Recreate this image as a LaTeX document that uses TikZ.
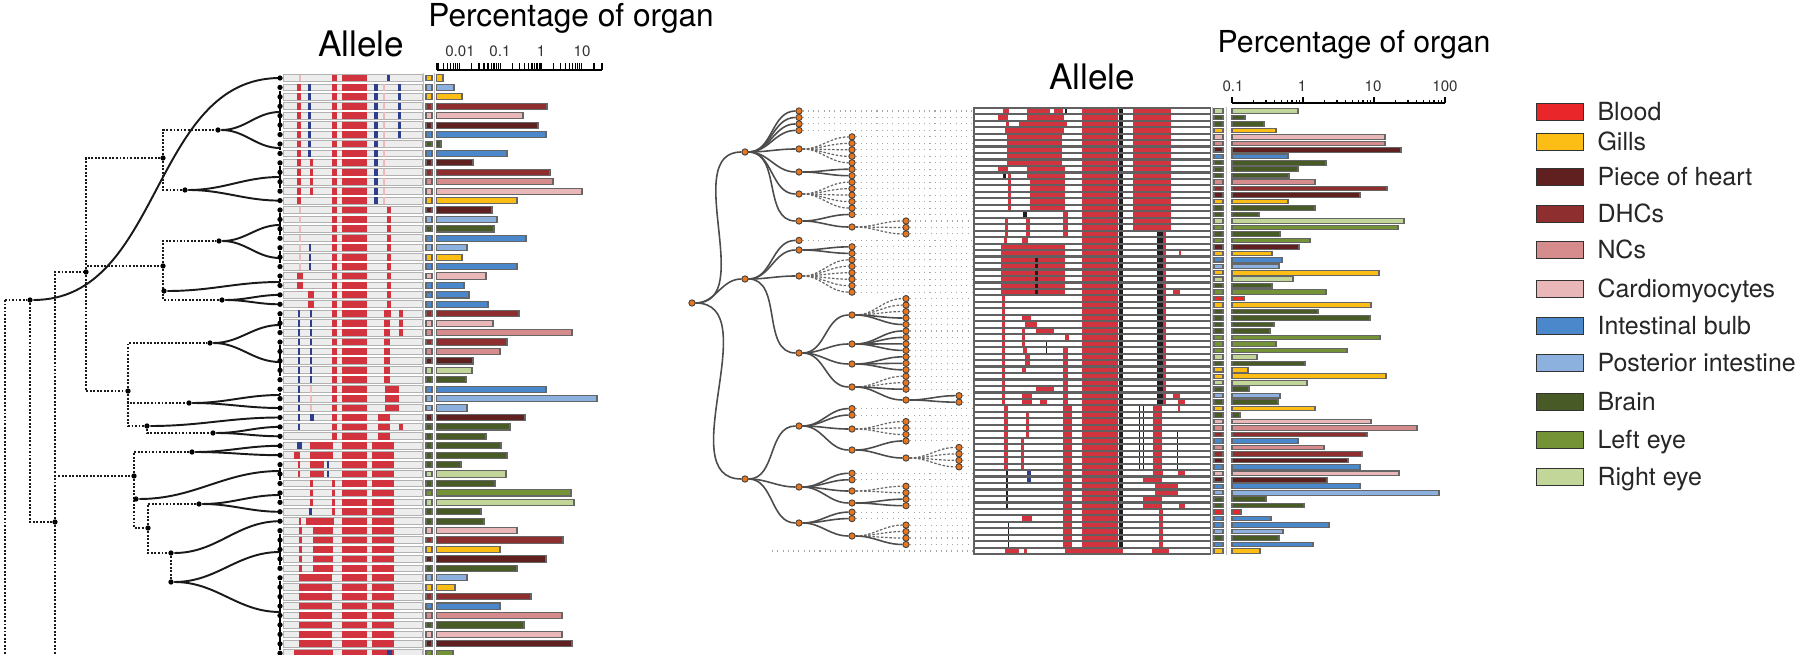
\documentclass[tikz,border=0pt]{standalone}
\usepackage{fontspec}
\setmainfont{TeX Gyre Heros}
\usetikzlibrary{positioning,backgrounds}
\definecolor{orgbl}{RGB}{233,38,42}
\definecolor{orggi}{RGB}{252,190,20}
\definecolor{orgph}{RGB}{96,32,32}
\definecolor{orgdh}{RGB}{142,46,46}
\definecolor{orgnc}{RGB}{214,140,140}
\definecolor{orgcm}{RGB}{233,183,183}
\definecolor{orgib}{RGB}{74,135,203}
\definecolor{orgpi}{RGB}{140,177,222}
\definecolor{orgbr}{RGB}{72,90,38}
\definecolor{orgle}{RGB}{115,147,54}
\definecolor{orgre}{RGB}{193,214,152}
\definecolor{alred}{RGB}{209,52,62}
\definecolor{alblue}{RGB}{44,62,140}
\definecolor{alblk}{RGB}{30,30,34}
\colorlet{alfaint}{alred!35}
\definecolor{rorange}{RGB}{232,118,30}

\newcommand\lseg[5][alred]{%
  \foreach \r in {#2,...,#3}{%
    \pgfmathsetmacro\yy{78+(\r-1)*9.43}%
    \fill[#1] (#4,\yy-3.4) rectangle (#5,\yy+3.4);}}
\newcommand\rseg[5][alred]{%
  \foreach \r in {#2,...,#3}{%
    \pgfmathsetmacro\yy{111+(\r-1)*6.47}%
    \fill[#1] (#4,\yy-2.15) rectangle (#5,\yy+2.15);}}
\newcommand\rfan[4][redge]{%
  \foreach \r in {#3,...,#4}{\draw[#1] (#2) to[out=0,in=180] (rl\r);}}

\begin{document}
\begin{tikzpicture}[x=0.01cm,y=-0.01cm,
  ldot/.style={circle,fill=black,inner sep=0pt,minimum size=1.5pt},
  ldend/.style={line width=0.75pt,black!90,dash pattern=on 0.55pt off 0.45pt},
  lcurve/.style={line width=0.55pt,black!90},
  lleaf/.style={line width=0.55pt},
  lbg/.style={fill=black!7,draw=black!30,line width=0.25pt},
  orgbox/.style={draw=black!60,line width=0.3pt},
  rnode/.style={circle,fill=rorange,draw=black!75,line width=0.25pt,inner sep=0pt,minimum size=1.8pt},
  redge/.style={line width=0.45pt,draw=black!70},
  rdash/.style={line width=0.35pt,draw=black!60,dash pattern=on 0.7pt off 0.5pt},
  rlead/.style={line width=0.3pt,draw=black!35,dash pattern=on 0.3pt off 1.2pt},
  axln/.style={line width=0.35pt},
  axlab/.style={anchor=base,inner sep=0pt,font=\fontsize{4.3}{5}\selectfont,text=black!80},
  ttl/.style={anchor=base,inner sep=0pt},
  lgbox/.style={draw=black!80,line width=0.45pt,minimum width=13.3pt,minimum height=4.9pt,inner sep=0pt},
  lgtxt/.style={inner sep=0pt,text height=5.1pt,text depth=0pt,font=\fontsize{7.1}{8}\selectfont,text=black!85}]
\useasboundingbox (0,0) rectangle (1800,655);

% titles
\node[ttl,font=\fontsize{9}{10}\selectfont] (lptitle) at (571,27) {Percentage of organ};
\node[ttl,font=\fontsize{10}{11}\selectfont] (latitle) at (361,57) {Allele};
\node[ttl,font=\fontsize{8.6}{10}\selectfont] (rptitle) at (1354,53) {Percentage of organ};
\node[ttl,font=\fontsize{10}{11}\selectfont] (ratitle) at (1092,90) {Allele};

% left axis
\draw[axln] (437,70) -- (602,70);
\foreach \d in {-3,...,1}
  \foreach \m in {1,...,9}{
    \pgfmathsetmacro\tx{541+(\d+log10(\m))*40.7}
    \pgfmathtruncatemacro\ok{(\tx>436)*(\tx<603)}
    \ifnum\ok=1 \draw[axln] (\tx,70) -- (\tx,63); \fi}
\draw[axln] (437,70) -- (437,63);
\draw[axln] (602,70) -- (602,63);
\node[axlab] (lx1) at (460,57) {0.01};
\node[axlab] (lx2) at (500,57) {0.1};
\node[axlab] (lx3) at (541,57) {1};
\node[axlab] (lx4) at (582,57) {10};

% right axis
\draw[axln] (1232,103) -- (1445,103);
\foreach \d in {0,1,2}{
  \draw[axln] ({1232+\d*71},103) -- ({1232+\d*71},97.5);
  \foreach \m in {2,...,9}
    \draw[axln] ({1232+(\d+log10(\m))*71},103) -- ({1232+(\d+log10(\m))*71},100);}
\draw[axln] (1445,103) -- (1445,97.5);
\node[axlab] (rx1) at (1233,92) {0.1};
\node[axlab] (rx2) at (1302,92) {1};
\node[axlab] (rx3) at (1373,92) {10};
\node[axlab] (rx4) at (1445,92) {100};

% left rows
\draw[black!25,line width=0.4pt] (423.5,73) -- (423.5,655) (434.5,73) -- (434.5,655);
\foreach \c/\e [count=\r] in {gi/443,pi/454,gi/462,dh/547,cm/523,ph/538,ib/546,br/441,ib/507,ph/473,
  dh/550,nc/553,cm/582,gi/517,ph/492,pi/497,br/494,ib/526,pi/467,gi/462,
  ib/517,cm/486,ib/464,ib/469,ib/488,dh/519,cm/493,nc/572,dh/507,nc/500,
  ph/473,re/472,br/466,ib/546,pi/597,pi/467,ph/525,br/510,br/486,br/501,
  br/507,br/461,re/506,br/495,le/571,re/574,br/481,br/484,cm/517,dh/563,
  gi/500,ph/546,br/517,pi/467,gi/455,dh/531,ib/500,nc/562,br/524,cm/562,
  ph/572,le/453}{
  \pgfmathsetmacro\yy{78+(\r-1)*9.43}
  \draw[lbg] (283,\yy-3.4) rectangle (422,\yy+3.4);
  \draw[orgbox,fill=org\c] (426,\yy-2.9) rectangle (432,\yy+2.9);
  \draw[orgbox,fill=org\c] (436.5,\yy-3.1) rectangle (\e,\yy+3.1);}

% left alleles
\lseg{1}{62}{342}{367}
\lseg{1}{39}{332}{337}
\lseg[alfaint]{1}{1}{299}{300.5}
\lseg[alblue]{1}{1}{387}{389.5}
\lseg{2}{14}{297}{301}
\lseg[alblue]{2}{9}{308}{310.5}
\lseg{10}{13}{310}{312.5}
\lseg[alblue]{2}{14}{374}{378}
\lseg[alfaint]{2}{14}{383}{385}
\lseg[alblue]{2}{7}{398}{401}
\lseg[alfaint]{15}{23}{299}{300.5}
\lseg{15}{26}{387}{391}
\lseg[alblue]{19}{21}{309}{311}
\lseg{22}{23}{297}{303}
\lseg{24}{25}{308}{314}
\lseg[alblue]{26}{38}{298}{300}
\lseg[alblue]{26}{33}{310}{312}
\lseg[alfaint]{34}{36}{310}{312}
\lseg{26}{33}{384}{390}
\lseg{34}{36}{385}{399}
\lseg{26}{28}{399}{403}
\lseg[alblue]{37}{37}{310}{314}
\lseg{37}{39}{378}{390}
\lseg{38}{38}{399}{403}
\lseg[alblue]{40}{40}{297}{302}
\lseg{41}{41}{294}{300}
\lseg{40}{41}{310}{333}
\lseg{42}{43}{298}{300}
\lseg{42}{43}{310}{324}
\lseg[alblue]{42}{43}{327}{329}
\lseg{44}{47}{332}{335}
\lseg{44}{46}{310}{313}
\lseg[alblue]{47}{47}{309}{312}
\lseg{48}{48}{299}{301}
\lseg{48}{48}{306}{334}
\lseg{49}{53}{299}{302}
\lseg{49}{53}{313}{333}
\lseg{54}{62}{299}{332}
\lseg{40}{62}{372}{394}
\lseg{62}{62}{294}{333}
\lseg[alblue]{62}{62}{387}{392}

% left tree
\foreach \r in {1,...,62}
  \node[ldot] (ll\r) at (280,{78+(\r-1)*9.43}) {};
\foreach \n/\ep in {1/78,2/112,3/148,4/177,5/200.6,6/225,7/258,8/282,9/294.9,10/304.3,
  11/325,12/362,13/395,14/408,15/417.5,16/426.9,17/436.3,18/445.8,19/455.2,20/471,
  21/495,22/511.8,23/521.2,24/552,25/612}
  \coordinate (lg\n) at (280,\ep);
\coordinate (lt0) at (5,300);
\coordinate (lt0b) at (5,700);
\coordinate (lt2b) at (55,700);
\node[ldot] (lt1) at (30,300) {};
\node[ldot] (lt2) at (55,522) {};
\node[ldot] (lt3) at (86,272) {};
\node[ldot] (lt4) at (134,476) {};
\node[ldot] (lt5) at (163,158) {};
\node[ldot] (lt6) at (163,266) {};
\node[ldot] (lt7) at (128,391) {};
\node[ldot] (lt8) at (147,426) {};
\node[ldot] (lt9) at (148,528) {};
\node[ldot] (lt10) at (171,553) {};
\node[ldot] (ls1) at (218,130) {};
\node[ldot] (ls2) at (185,190) {};
\node[ldot] (ls3) at (219,241) {};
\node[ldot] (ls4) at (222,300) {};
\node[ldot] (lq1) at (164,291) {};
\node[ldot] (ls5) at (210,343) {};
\node[ldot] (ls6) at (189,403) {};
\node[ldot] (ls7) at (213,433) {};
\node[ldot] (ls8) at (192,452) {};
\node[ldot] (lq2) at (136,499) {};
\node[ldot] (ls9) at (199,504) {};
\node[ldot] (ls10) at (171,582) {};
\begin{scope}[on background layer]
  \draw[ldend] (lt0) -- (lt0b);
  \draw[ldend] (lt2) -- (lt2b);
  \foreach \p/\q in {lt0/lt1,lt1/lt2,lt2/lt3,lt2/lt4,lt3/lt5,lt3/lt6,lt3/lt7,
    lt5/ls1,lt5/ls2,lt6/ls3,lt6/ls4,lt6/lq1,lt7/ls5,lt7/ls6,lt7/lt8,lt8/ls7,
    lt4/ls8,lt4/lq2,lt4/lt9,lt9/ls9,lt9/lt10,lt10/ls10}
    \draw[ldend] (\p) |- (\q);
  \foreach \a/\b in {2/7,8/9,10/13,15/18,19/21,22/23,26/28,29/33,34/35,42/44,45/46,49/53,54/62}
    \draw[lleaf] (ll\a) -- (ll\b);
  \foreach \f/\g in {lt1/1,ls1/2,ls1/3,ls2/4,ls2/5,ls3/6,ls3/7,lq1/8,ls4/9,ls4/10,
    ls5/11,ls5/12,ls6/13,ls6/14,lt8/15,ls7/16,ls7/17,ls8/18,ls8/19,lq2/20,
    ls9/21,ls9/22,lt10/23,ls10/24,ls10/25}
    \draw[lcurve] (\f) to[out=0,in=180] (lg\g);
\end{scope}

% right matrix
\fill[black!62] (973,107.5) rectangle (1211,554.5);
\draw[black!25,line width=0.4pt] (1212.5,107) -- (1212.5,555) (1226.5,107) -- (1226.5,555);
\foreach \c/\e [count=\r] in {re/1298,br/1245,br/1264,gi/1276,cm/1385,nc/1385,ph/1401,ib/1288,br/1326,br/1298,
  br/1289,nc/1315,dh/1387,ph/1360,gi/1288,br/1315,br/1259,re/1404,le/1398,br/1280,
  le/1310,ph/1299,gi/1272,ib/1282,pi/1279,gi/1379,re/1293,br/1272,le/1326,bl/1244,
  gi/1371,br/1318,br/1370,br/1274,br/1270,le/1380,le/1276,le/1347,re/1257,br/1305,
  gi/1248,gi/1386,re/1307,br/1249,pi/1280,br/1278,gi/1315,br/1240,cm/1371,nc/1417,
  dh/1367,ib/1298,nc/1324,dh/1362,ph/1348,ib/1360,cm/1399,ph/1327,ib/1360,pi/1439,
  br/1266,br/1304,bl/1241,ib/1271,ib/1329,pi/1283,br/1279,ib/1313,gi/1260}{
  \pgfmathsetmacro\yy{111+(\r-1)*6.47}
  \fill[white] (974.5,\yy-2.15) rectangle (1209.5,\yy+2.15);
  \draw[orgbox,fill=org\c] (1214,\yy-2.2) rectangle (1223,\yy+2.2);
  \draw[orgbox,fill=org\c] (1232,\yy-2.3) rectangle (\e,\yy+2.3);}

% right alleles
\rseg{1}{69}{1082}{1118}
\rseg[alblk]{1}{69}{1119}{1123}
\rseg{1}{1}{1003}{1009}
\rseg{1}{1}{1027}{1050}
\rseg{1}{1}{1054}{1063}
\rseg[alblk]{1}{1}{1065}{1067}
\rseg{1}{19}{1133}{1171}
\rseg{2}{2}{998}{1008}
\rseg{2}{2}{1027}{1064}
\rseg{3}{3}{1006}{1009}
\rseg{3}{3}{1019}{1067}
\rseg{4}{4}{1005}{1064}
\rseg{5}{9}{1007}{1062}
\rseg{10}{10}{998}{1008}
\rseg{10}{11}{1027}{1065}
\rseg[alblk]{11}{11}{1003}{1006}
\rseg{11}{16}{1008}{1011}
\rseg{12}{16}{1030}{1065}
\rseg[alblk]{17}{17}{1023}{1027}
\rseg{17}{20}{1063}{1068}
\rseg{18}{20}{1005}{1008}
\rseg{18}{20}{1026}{1030}
\rseg{21}{21}{1004}{1007}
\rseg{21}{21}{1022}{1028}
\rseg{22}{29}{1001}{1065}
\rseg[alblk]{24}{29}{1035}{1038}
\rseg{23}{23}{1179}{1181}
\rseg{29}{29}{1173}{1180}
\rseg[alblk]{20}{46}{1157}{1163}
\rseg{20}{46}{1163}{1166}
\rseg{30}{46}{1002}{1005}
\rseg{33}{33}{1022}{1031}
\rseg{34}{34}{1025}{1037}
\rseg{35}{35}{1036}{1054}
\rseg{35}{37}{1022}{1025}
\rseg{36}{36}{1065}{1069}
\rseg[alblk]{37}{38}{1046}{1047}
\rseg{38}{46}{1063}{1068}
\rseg{38}{38}{1023}{1027}
\rseg{39}{40}{1025}{1030}
\rseg{41}{41}{1022}{1026}
\rseg{44}{44}{1036}{1054}
\rseg{45}{46}{1022}{1032}
\rseg{45}{45}{1173}{1180}
\rseg{46}{46}{1040}{1047}
\rseg{46}{46}{1178}{1185}
\rseg{47}{68}{1063}{1072}
\rseg{47}{56}{1004}{1008}
\rseg{47}{56}{1153}{1162}
\rseg[alblk]{47}{56}{1139}{1140}
\rseg[alblk]{47}{56}{1143}{1144}
\rseg{47}{47}{1178}{1180}
\rseg{48}{51}{1026}{1029}
\rseg{52}{56}{1021}{1024}
\rseg[alblk]{51}{56}{1177}{1178}
\rseg{57}{57}{1153}{1163}
\rseg{57}{57}{1178}{1185}
\rseg[alblue]{57}{58}{1027}{1031}
\rseg[alblk]{57}{62}{1006}{1008}
\rseg{58}{58}{1143}{1162}
\rseg{59}{60}{1155}{1178}
\rseg{61}{62}{1143}{1162}
\rseg{62}{62}{1179}{1185}
\rseg{63}{68}{1159}{1163}
\rseg{64}{64}{1022}{1032}
\rseg[alblk]{65}{68}{1008}{1009}
\rseg{69}{69}{1005}{1019}
\rseg{69}{69}{1024}{1027}
\rseg{69}{69}{1065}{1123}
\rseg{69}{69}{1152}{1169}

% right tree
\foreach \a/\b/\x in {1/4/799,5/17/852,18/20/906,21/21/799,22/29/852,30/44/906,45/46/959,
  47/48/852,49/52/906,53/56/959,57/58/852,59/62/906,63/64/852,65/68/906}
  \foreach \r in {\a,...,\b}{
    \node[rnode] (rl\r) at (\x,{111+(\r-1)*6.47}) {};
    \coordinate (rm\r) at (973,{111+(\r-1)*6.47});}
\coordinate (rs69) at (772,551);
\coordinate (rm69) at (973,551);
\node[rnode] (rR) at (692,303) {};
\node[rnode] (rA) at (745,152) {};
\node[rnode] (rB) at (745,279) {};
\node[rnode] (rC) at (745,479) {};
\node[rnode] (ra1) at (799,149) {};
\node[rnode] (ra2) at (799,172) {};
\node[rnode] (ra3) at (799,194) {};
\node[rnode] (ra4) at (799,221) {};
\node[rnode] (ra5) at (852,227) {};
\node[rnode] (rb1) at (799,250) {};
\node[rnode] (rb2) at (799,276) {};
\node[rnode] (rD) at (799,353) {};
\node[rnode] (rd1) at (852,315) {};
\node[rnode] (rd2) at (852,344) {};
\node[rnode] (rd3) at (852,364) {};
\node[rnode] (rd4) at (852,387) {};
\node[rnode] (rd5) at (906,400) {};
\node[rnode] (re1) at (799,426) {};
\node[rnode] (re2) at (799,487) {};
\node[rnode] (re3) at (799,523) {};
\node[rnode] (re4) at (852,429) {};
\node[rnode] (re5) at (852,450) {};
\node[rnode] (re6) at (906,458) {};
\node[rnode] (re7) at (852,491) {};
\node[rnode] (re8) at (852,503) {};
\node[rnode] (re9) at (852,536) {};
\begin{scope}[on background layer]
  \foreach \r in {1,...,68} \draw[rlead] (rl\r) -- (rm\r);
  \draw[rlead] (rs69) -- (rm69);
  \foreach \p/\q in {rR/rA,rR/rB,rR/rC,rA/ra1,rA/ra2,rA/ra3,rA/ra4,ra4/ra5,
    rB/rb1,rB/rb2,rB/rD,rD/rd1,rD/rd2,rD/rd3,rD/rd4,rd4/rd5,
    rC/re1,rC/re2,rC/re3,re1/re4,re1/re5,re5/re6,re2/re7,re2/re8,re3/re9}
    \draw[redge] (\p) to[out=0,in=180] (\q);
  \rfan{rA}{1}{4}
  \rfan[rdash]{ra1}{5}{9}
  \rfan{ra2}{10}{11}
  \rfan[rdash]{ra3}{12}{16}
  \rfan{ra4}{17}{17}
  \rfan[rdash]{ra5}{18}{20}
  \rfan{rB}{21}{21}
  \rfan{rb1}{22}{23}
  \rfan[rdash]{rb2}{24}{29}
  \rfan[rdash]{rd1}{30}{32}
  \rfan{rd1}{33}{34}
  \rfan{rd2}{35}{38}
  \rfan{rd3}{39}{41}
  \rfan[rdash]{rd4}{42}{43}
  \rfan{rd4}{44}{44}
  \rfan{rd5}{45}{46}
  \rfan{re1}{47}{48}
  \rfan[rdash]{re4}{49}{51}
  \rfan{re5}{52}{52}
  \rfan[rdash]{re6}{53}{56}
  \rfan{re2}{57}{58}
  \rfan[rdash]{re7}{59}{60}
  \rfan{re8}{61}{62}
  \rfan{re3}{63}{64}
  \rfan[rdash]{re9}{65}{67}
  \rfan{re9}{68}{68}
\end{scope}

% legend
\foreach \c/\t/\yy [count=\i] in {bl/Blood/112,gi/Gills/142,ph/Piece of heart/177,dh/DHCs/214,
  nc/NCs/250,cm/Cardiomyocytes/289,ib/Intestinal bulb/326,pi/Posterior intestine/363,
  br/Brain/402,le/Left eye/440,re/Right eye/477}{
  \node[lgbox,fill=org\c] (lgb\i) at (1560,\yy) {};
  \node[lgtxt,right=3.6pt of lgb\i] (lgt\i) {\t};}
\end{tikzpicture}
\end{document}
